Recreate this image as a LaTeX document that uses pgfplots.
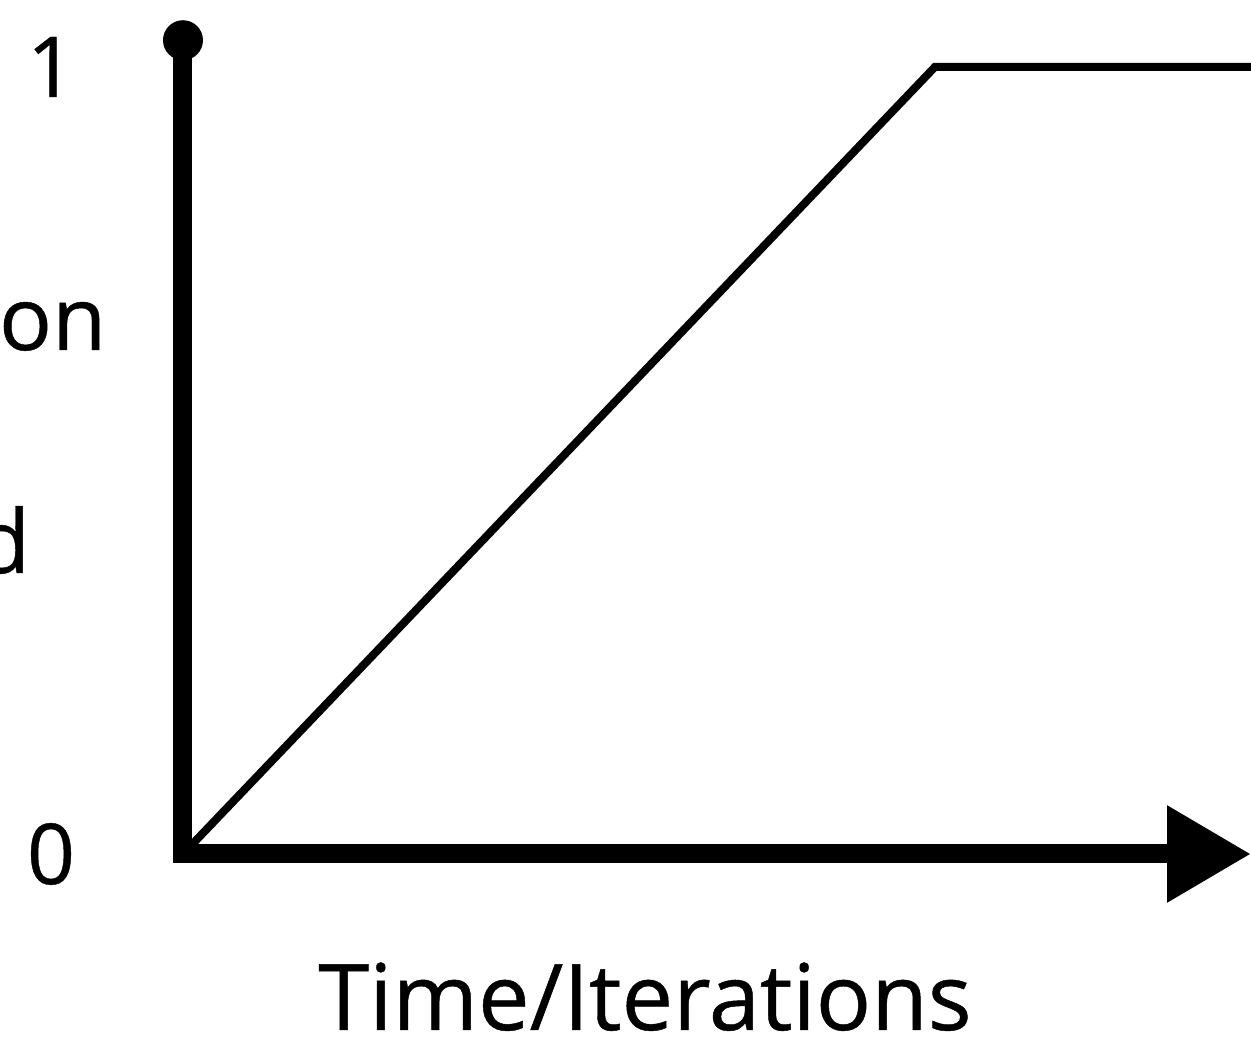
\documentclass[border=0pt]{standalone}
\usepackage{pgfplots}
\pgfplotsset{compat=1.18}
\usepackage{fontspec}
\setmainfont{Open Sans}[FakeBold=0.5, AutoFakeBold=0.5]
\newfontfamily\heavy{Open Sans}[FakeBold=0.5]
\usetikzlibrary{arrows.meta}
\begin{document}
\begin{tikzpicture}
\useasboundingbox (-45.75pt,-48.25pt) rectangle (267pt,213.5pt);
\clip (-45.75pt,-48.25pt) rectangle (267pt,213.5pt);
\begin{axis}[
  scale only axis, width=267pt, height=196.75pt,
  xmin=0, xmax=1, ymin=0, ymax=1,
  axis line style={draw=none},
  xtick=\empty, ytick={0,1},
  major tick length=0pt,
  /pgf/number format/assume math mode=true,
  yticklabel style={anchor=center, xshift=-33pt, font=\heavy\fontsize{21}{25}\selectfont},
  clip=false,
]
\addplot[black, line width=2pt, line join=miter, no markers] coordinates {(0,0) (0.704,1) (1,1)};
\draw[black, line width=4.75pt, line join=miter, -{Triangle[length=21pt,width=23pt]}]
  (axis cs:0,1.034) -- (axis cs:0,0) -- (axis cs:1,0);
\fill[black] (axis cs:0,1.034) circle[radius=5pt];
\node[anchor=base, font=\heavy\fontsize{23}{27}\selectfont] at ([yshift=-44pt]rel axis cs:0.4326,0) {Time/Iterations};
\node[anchor=base east, inner sep=0pt, font=\heavy\fontsize{22}{26}\selectfont] at ([xshift=-19pt,yshift=126pt]rel axis cs:0,0) {on};
\node[anchor=base east, inner sep=0pt, font=\heavy\fontsize{22}{26}\selectfont] at ([xshift=-38pt,yshift=70.25pt]rel axis cs:0,0) {d};
\end{axis}
\end{tikzpicture}
\end{document}
